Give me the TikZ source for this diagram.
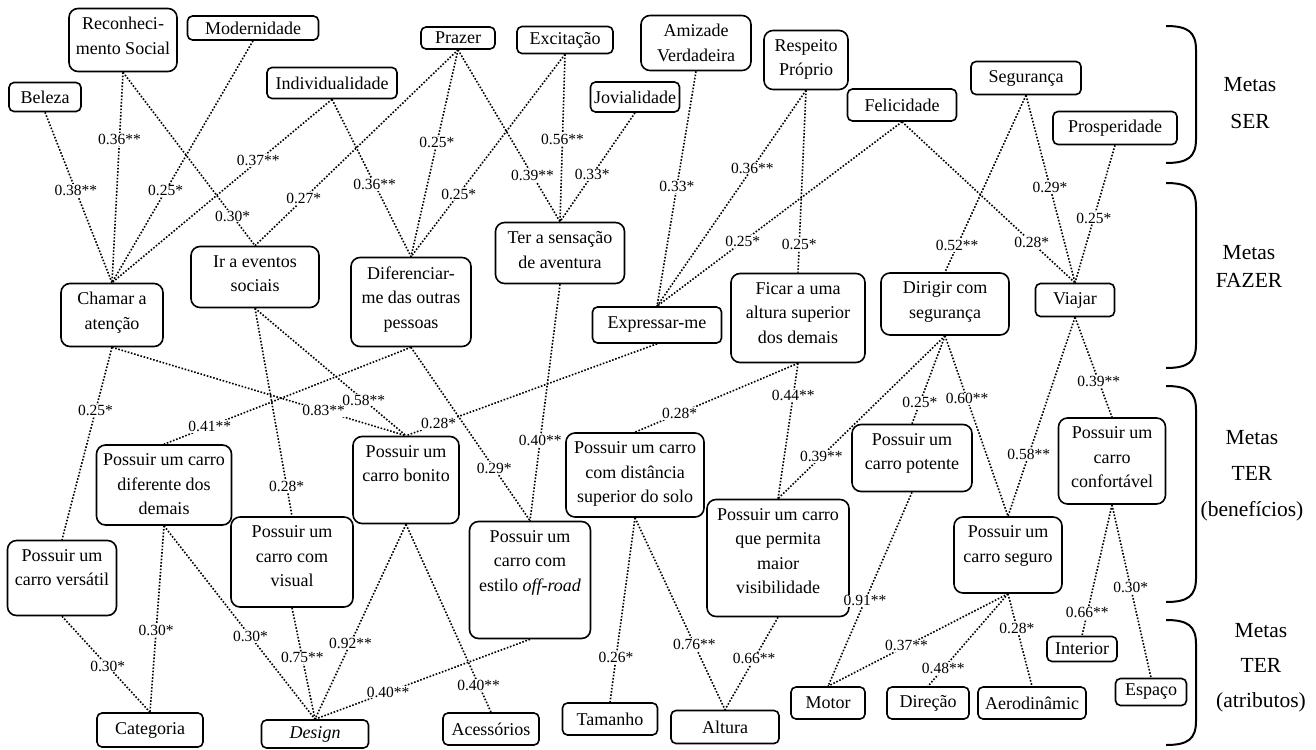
\documentclass[tikz,border=0pt]{standalone}
\usepackage{fontspec}
\setmainfont{Liberation Serif}
\tikzset{
 mbox/.style={draw, line width=1.6pt, rounded corners=9pt, fill=white, inner sep=0pt, font=\fontsize{18}{24.5}\selectfont},
 sbox/.style={mbox, rounded corners=5pt},
 conn/.style={line width=1.6pt, dash pattern=on 1.6pt off 1.7pt},
 lbl/.style={fill=white, inner sep=1pt, font=\fontsize{15.5}{18}\selectfont},
 goal/.style={align=center, font=\fontsize{21.5}{36}\selectfont},
 brace/.style={line width=2pt},
}
\newcommand{\Tbox}[6]{\node[mbox, minimum width=#4pt, minimum height=#5pt] (#1) at (#2,#3) {\parbox[c][\dimexpr #5pt-18pt\relax][t]{#4pt}{\centering #6}};}
\newcommand{\Brc}[2]{\draw[brace] (1166,#1) .. controls (1188,#1) and (1196,#1+6) .. (1196,#1+24) -- (1196,#2-24) .. controls (1196,#2-6) and (1188,#2) .. (1166,#2);}
\def\edgelist{bel/cha/0.46/0.38**,
rec/cha/0.32/0.36**,
rec/ire/0.83/0.30*,
mod/cha/0.62/0.25*,
ind/cha/0.335/0.37**,
ind/dif/0.54/0.36**,
pra/ire/0.76/0.27*,
pra/dif/0.45/0.25*,
pra/ter/0.73/0.39**,
exc/dif/0.69/0.25*,
exc/ter/0.51/0.56**,
jov/ter/0.57/0.33*,
ami/exq/0.49/0.33*,
res/exq/0.36/0.36**,
res/fic/0.845/0.25*,
fel/exq/0.65/0.25*,
fel/via/0.75/0.28*,
seg/dir/0.85/0.52**,
seg/via/0.49/0.29*,
pro/via/0.53/0.25*,
cha/pve/0.33/0.25*,
cha/pbo/0.72/0.83**,
ire/pbo/0.72/0.58**,
ire/pvi/0.856/0.28*,
dif/pdi/0.815/0.41**,
dif/pof/0.70/0.29*,
exq/pbo/0.87/0.28*,
ter/pof/0.66/0.40**,
fic/pds/0.726/0.28*,
fic/pvs/0.24/0.44**,
dir/pvs/0.74/0.39**,
dir/ppo/0.76/0.25*,
dir/pse/0.35/0.60**,
via/pse/0.69/0.58**,
via/pco/0.64/0.39**,
pve/cat/0.52/0.30*,
pdi/cat/0.56/0.30*,
pdi/des/0.573/0.30*,
pvi/des/0.45/0.75**,
pbo/des/0.61/0.92**,
pof/des/0.66/0.40**,
pbo/ace/0.855/0.40**,
pds/tam/0.76/0.26*,
pds/alt/0.66/0.76**,
pvs/alt/0.45/0.66**,
ppo/mot/0.56/0.91**,
pse/mot/0.564/0.37**,
pse/dre/0.81/0.48**,
pse/aer/0.37/0.28*,
pco/inter/0.826/0.66**,
pco/esp/0.48/0.30*}
\begin{document}
\begin{tikzpicture}[x=1pt,y=-1pt]
\useasboundingbox (0,0) rectangle (1316,749);
% Metas SER
\node[sbox, minimum width=72pt, minimum height=29pt] (bel) at (45,97) {Beleza};
\Tbox{rec}{123}{40}{108}{63}{Reconheci-\\mento Social}
\node[sbox, minimum width=131pt, minimum height=24pt] (mod) at (253,28) {Modernidade};
\node[sbox, minimum width=130pt, minimum height=31pt] (ind) at (332,83) {Individualidade};
\node[sbox, minimum width=74pt, minimum height=22pt] (pra) at (458,38) {Prazer};
\node[sbox, minimum width=96pt, minimum height=27pt] (exc) at (565,40) {Excitação};
\Tbox{ami}{696}{43}{110}{55}{Amizade\\Verdadeira}
\node[sbox, minimum width=89pt, minimum height=30pt] (jov) at (635,97) {Jovialidade};
\Tbox{res}{806}{60}{84}{59}{Respeito\\Próprio}
\node[sbox, minimum width=109pt, minimum height=32pt] (fel) at (902,105) {Felicidade};
\node[sbox, minimum width=110pt, minimum height=33pt] (seg) at (1026,78) {Segurança};
\node[sbox, minimum width=124pt, minimum height=33pt] (pro) at (1115,128) {Prosperidade};
% Metas FAZER
\Tbox{cha}{112}{315}{102}{63}{Chamar a\\atenção}
\Tbox{ire}{255}{277}{128}{61}{Ir a eventos\\sociais}
\Tbox{dif}{411}{302}{120}{89}{Diferenciar-\\me das outras\\pessoas}
\Tbox{ter}{560}{253}{129}{61}{Ter a sensação\\de aventura}
\node[sbox, minimum width=129pt, minimum height=36pt] (exq) at (657,325) {Expressar-me};
\Tbox{fic}{798}{318}{134}{89}{Ficar a uma\\altura superior\\dos demais}
\Tbox{dir}{945}{304}{128}{62}{Dirigir com\\segurança}
\node[sbox, minimum width=79pt, minimum height=33pt] (via) at (1075,300) {Viajar};
% Metas TER (beneficios)
\Tbox{pdi}{164}{485}{135}{80}{Possuir um carro\\diferente dos\\demais}
\Tbox{pbo}{406}{480}{106}{87}{Possuir um\\carro bonito}
\Tbox{pve}{62}{578}{109}{75}{Possuir um\\carro versátil}
\Tbox{pvi}{292}{562}{122}{90}{Possuir um\\carro com\\visual}
\Tbox{pof}{530}{580}{121}{117}{Possuir um\\carro com\\estilo \textit{off-road}}
\Tbox{pds}{635}{475}{138}{84}{Possuir um carro\\com distância\\superior do solo}
\Tbox{pvs}{778}{558}{142}{117}{Possuir um carro\\que permita\\maior\\visibilidade}
\Tbox{ppo}{912}{458}{120}{67}{Possuir um\\carro potente}
\Tbox{pco}{1112}{461}{107}{86}{Possuir um\\carro\\confortável}
\Tbox{pse}{1008}{555}{108}{76}{Possuir um\\carro seguro}
% Metas TER (atributos)
\node[sbox, minimum width=106pt, minimum height=34pt] (cat) at (150,730) {Categoria};
\node[sbox, minimum width=107pt, minimum height=28pt] (des) at (315,734) {\textit{Design}};
\node[sbox, minimum width=96pt, minimum height=32pt] (ace) at (491,729) {Acessórios};
\node[sbox, minimum width=95pt, minimum height=32pt] (tam) at (610,719) {Tamanho};
\node[sbox, minimum width=108pt, minimum height=33pt] (alt) at (725,727) {Altura};
\node[sbox, minimum width=74pt, minimum height=32pt] (mot) at (828,703) {Motor};
\node[sbox, minimum width=82pt, minimum height=32pt] (dre) at (928,703) {Direção};
\node[sbox, minimum width=108pt, minimum height=32pt] (aer) at (1032,703) {Aerodinâmic};
\node[sbox, minimum width=70pt, minimum height=25pt] (inter) at (1082,649) {Interior};
\node[sbox, minimum width=71pt, minimum height=27pt] (esp) at (1151,692) {Espaço};
% connectors
\foreach \a/\b/\p/\t in \edgelist {\draw[conn] (\a.south) -- (\b.north);}
\foreach \a/\b/\p/\t in \edgelist {\path (\a.south) -- node[lbl,pos=\p]{\t} (\b.north);}
% level braces and labels
\Brc{26}{163}
\Brc{183}{368}
\Brc{386}{602}
\Brc{620}{745}
\node[goal, font=\fontsize{21.5}{37}\selectfont] (gser) at (1250,103) {Metas\\SER};
\node[goal, font=\fontsize{21.5}{28}\selectfont] (gfaz) at (1249,266) {Metas\\FAZER};
\node[goal] (gben) at (1252,476) {Metas\\TER\\(benefícios)};
\node[goal, font=\fontsize{21.5}{35}\selectfont] (gatr) at (1261,668) {Metas\\TER\\(atributos)};
\end{tikzpicture}
\end{document}
